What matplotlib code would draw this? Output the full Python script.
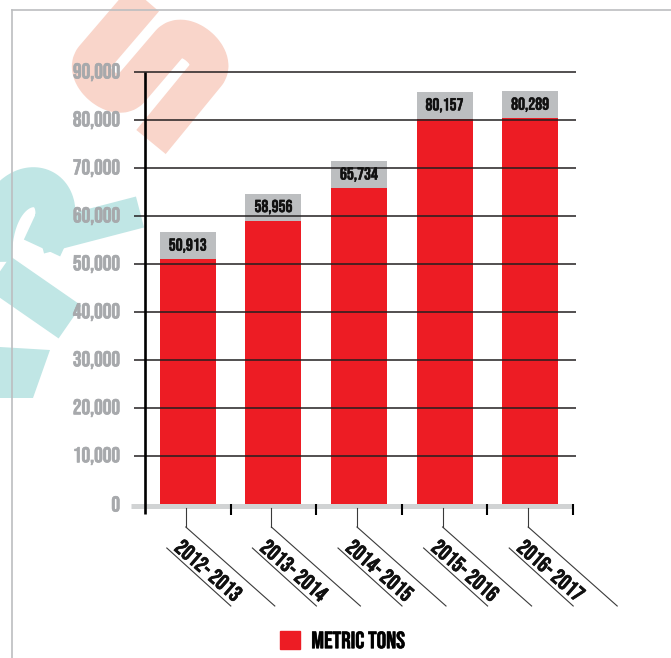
import matplotlib.pyplot as plt
import matplotlib.patheffects as pe
from matplotlib.lines import Line2D
from matplotlib.patches import Patch, PathPatch
from matplotlib.path import Path
from matplotlib.transforms import offset_copy

plt.rcParams['font.family'] = ['Bebas Neue', 'DejaVu Sans']

# Data
seasons = ["2012- 2013", "2013- 2014", "2014- 2015", "2015- 2016", "2016- 2017"]
metric_tons = [50913, 58956, 65734, 80157, 80289]
y_ticks = [0, 10000, 20000, 30000, 40000, 50000, 60000, 70000, 80000, 90000]
legend_label = "METRIC TONS"

RED = "#ed1c24"
BOX_GRAY = "#bcbec0"
TICK_GRAY = "#a7a9ac"
INK = "#111111"
W, H = 671, 658


def fp(px, py):
    # image pixel (top-left origin) -> figure fraction
    return px / W, 1 - py / H


def bold(color, w=0.5):
    # thicken the single-weight font a little
    return [pe.withStroke(linewidth=w, foreground=color)]


fig = plt.figure(figsize=(W / 100, H / 100), dpi=100)

#%% watermark brush strokes (background decoration)
def stroke(pts, codes, color, width_px):
    verts = [fp(x, y) for x, y in pts]
    p = PathPatch(Path(verts, codes), facecolor="none", edgecolor=color,
                  lw=width_px * 0.72, capstyle="butt", joinstyle="round",
                  transform=fig.transFigure, zorder=0)
    fig.add_artist(p)


M, L, C = Path.MOVETO, Path.LINETO, Path.CURVE4
PINK = "#f9d5ca"
CYAN = "#c0e6e5"
stroke([(148, -5), (94, 58), (80, 74.5), (116.4, 105.7), (130.7, 89),
        (169.7, 43.4), (184, 26.7), (220.5, 57.9), (206.2, 74.6), (151, 142)],
       [M, L, C, C, C, L, C, C, C, L], PINK, 38)
stroke([(-8, 262), (-10, 172), (62, 170), (55, 220), (42, 248)],
       [M, C, C, C, L], CYAN, 40)
stroke([(40, 238), (140, 212)], [M, L], CYAN, 32)
stroke([(-5, 270), (70, 322)], [M, L], CYAN, 40)
poly = [fp(*p) for p in [(0, 347), (50, 350), (33, 398), (0, 398), (0, 347)]]
fig.add_artist(PathPatch(Path(poly), facecolor=CYAN, edgecolor="none",
                         transform=fig.transFigure, zorder=0))

# outer frame
for xs, ys in [((12, 12), (10, 658)), ((12, 671), (10, 10))]:
    a, b = fp(xs[0], ys[0]), fp(xs[1], ys[1])
    fig.add_artist(Line2D([a[0], b[0]], [a[1], b[1]], color="#bcbec0",
                          lw=1.2, transform=fig.transFigure))

#%% main axes
x0, y0 = fp(145, 503.5)
x1, y1 = fp(573, 71.7)
ax = fig.add_axes([x0, y0, x1 - x0, y1 - y0])
ax.patch.set_alpha(0)
ax.set_xlim(-0.5, len(seasons) - 0.5)
ax.set_ylim(0, 90000)
for s in ax.spines.values():
    s.set_visible(False)
ax.set_xticks([])
ax.set_yticks(y_ticks, [f"{v:,}" for v in y_ticks], va="center",
              path_effects=bold(TICK_GRAY, 0.5))
ax.tick_params(axis="y", length=0, pad=18, labelsize=15.5, labelcolor=TICK_GRAY)

x = range(len(seasons))
box_h = 5650
ax.bar(x, metric_tons, width=0.655, color=RED, zorder=2)
ax.bar(x, [box_h] * len(seasons), bottom=metric_tons, width=0.655,
       color=BOX_GRAY, zorder=2)
for i, v in enumerate(metric_tons):
    ax.text(i, v + box_h / 2, f"{v:,}", ha="center", va="center",
            fontsize=12.5, color=INK, zorder=5, path_effects=bold(INK, 0.35))

# gridlines, axes lines and ticks
px_per_unit = 431.8 / 90000
ux = 1 / 85.6
ax.hlines(y_ticks[1:], -0.5 - 11 * ux, 4.5 + 3 * ux, color="#231f20",
          lw=1.1, zorder=3, clip_on=False)
ax.hlines(-2.5 / px_per_unit, -0.5 - 14 * ux, 4.5 - 1 * ux, color="#d1d3d4",
          lw=3.6, zorder=3, clip_on=False)
ax.vlines(-0.5, -10.4 / px_per_unit, 90000, color="black", lw=1.9,
          zorder=4, clip_on=False)
ax.vlines([i + 0.5 for i in x], 0, -11.5 / px_per_unit, color="black",
          lw=1.5, zorder=4, clip_on=False)

# category labels with leader lines
for i, lab in enumerate(seasons):
    tr = offset_copy(ax.transData, fig=fig, x=21, y=-66.5, units="dots")
    ax.text(i, 0, lab, rotation=-41, rotation_mode="anchor", ha="center",
            va="center", fontsize=16, color=INK, transform=tr,
            clip_on=False, path_effects=bold(INK, 0.45))
    cx = ax.transData.transform((i, 0))[0]
    segs = [((cx - 2, 508), (cx - 2, 527)),
            ((cx - 2, 527), (cx + 87, 606)),
            ((cx - 21, 548), (cx + 43, 606))]
    for a, b in segs:
        pa, pb = fp(*a), fp(*b)
        fig.add_artist(Line2D([pa[0], pb[0]], [pa[1], pb[1]],
                              color="#3a3a3a", lw=0.8,
                              transform=fig.transFigure))

leg = fig.legend(handles=[Patch(color=RED)], labels=[legend_label],
                 loc="center", bbox_to_anchor=fp(342.5, 640), frameon=False,
                 fontsize=17, handlelength=0.85, handleheight=0.85,
                 handletextpad=0.47)
for t in leg.get_texts():
    t.set_path_effects(bold(INK))

fig.savefig("out.png", dpi=100)
